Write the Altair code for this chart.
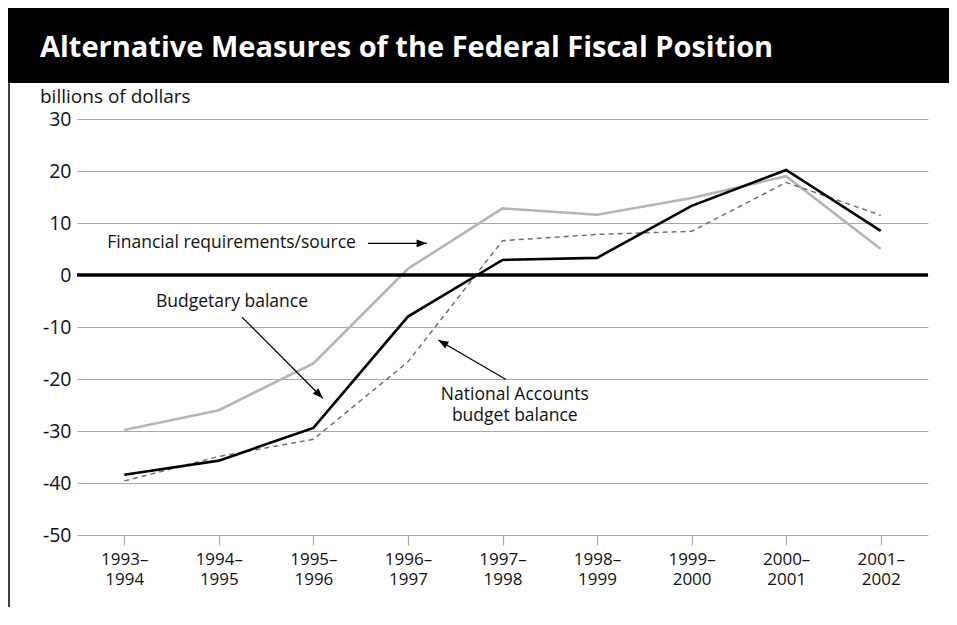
import altair as alt
import pandas as pd

# ---------------- data ----------------
label_top = ["1993–", "1994–", "1995–", "1996–", "1997–", "1998–", "1999–", "2000–", "2001–"]
label_bottom = ["1994", "1995", "1996", "1997", "1998", "1999", "2000", "2001", "2002"]
financial = [-29.8, -26.0, -17.0, 1.2, 12.8, 11.6, 14.8, 19.0, 5.0]
budgetary = [-38.4, -35.7, -29.4, -8.0, 2.9, 3.3, 13.3, 20.2, 8.5]
national = [-39.6, -34.9, -31.6, -16.7, 6.6, 7.8, 8.4, 17.8, 11.5]

y_ticks = [30, 20, 10, 0, -10, -20, -30, -40, -50]

# annotation texts (data coordinates: x = period index, y = billions)
ann_text = ["Financial requirements/source", "Budgetary balance", "National Accounts", "budget balance"]
ann_x = [-0.18, 0.335, 4.13, 4.13]
ann_y = [6.1, -5.25, -23.1, -27.2]
ann_align = ["left", "left", "center", "center"]

# arrows: start -> tip
arr_x1 = [2.577, 1.245, 4.037]
arr_y1 = [6.1, -8.1, -20.1]
arr_x2 = [3.20, 2.10, 3.32]
arr_y2 = [6.1, -23.7, -12.5]
arr_angle = [90, 135, 300]

FONT = "Open Sans"

idx = list(range(len(label_top)))
df = pd.DataFrame({
    "i": idx * 3,
    "v": financial + budgetary + national,
    "s": ["fin"] * 9 + ["bud"] * 9 + ["nat"] * 9,
})
ann_df = pd.DataFrame({"t": ann_text, "x": ann_x, "y": ann_y, "a": ann_align})
arr_df = pd.DataFrame({"x1": arr_x1, "y1": arr_y1, "x2": arr_x2, "y2": arr_y2, "ang": arr_angle})
one = pd.DataFrame({"d": [0]})

W, H = 851, 416
PL, PT, PR, PB = 69, 111, 21, 72

label_arr = "[" + ",".join("['%s','%s']" % (a, b) for a, b in zip(label_top, label_bottom)) + "]"

xscale = alt.Scale(domain=[-0.5, 8.5], nice=False, zero=False)
yscale = alt.Scale(domain=[-50, 30], nice=False, zero=False)

xaxis = alt.Axis(values=idx, labelExpr=label_arr + "[datum.value]", grid=False, domain=False,
                 ticks=True, tickSize=10, tickColor="#aaaaaa", tickWidth=1.2, tickOffset=0,
                 labelPadding=6, labelFontSize=17, labelFont=FONT, labelColor="#111111",
                 labelLineHeight=20, title=None, labelBaseline="top")
yaxis = alt.Axis(values=y_ticks, labelExpr="toString(datum.value)", grid=True, gridColor="#a8a8a8",
                 gridWidth=1.2, domain=False, ticks=False, labelPadding=6, labelFontSize=19.5,
                 labelFont=FONT, labelColor="#111111", title=None)

base = alt.Chart(df)

grid_layer = base.mark_point(opacity=0).encode(
    x=alt.X("i:Q", scale=xscale, axis=xaxis),
    y=alt.Y("v:Q", scale=yscale, axis=yaxis),
)

zero = alt.Chart(one).mark_rule(color="black", strokeWidth=3.5).encode(y=alt.datum(0, scale=yscale))

fin_line = base.transform_filter("datum.s == 'fin'").mark_line(color="#b5b5b5", strokeWidth=2.6).encode(
    x=alt.X("i:Q", scale=xscale), y=alt.Y("v:Q", scale=yscale))
nat_line = base.transform_filter("datum.s == 'nat'").mark_line(color="#707070", strokeWidth=1.5,
                                                                strokeDash=[5, 4]).encode(
    x=alt.X("i:Q", scale=xscale), y=alt.Y("v:Q", scale=yscale))
bud_line = base.transform_filter("datum.s == 'bud'").mark_line(color="black", strokeWidth=2.6).encode(
    x=alt.X("i:Q", scale=xscale), y=alt.Y("v:Q", scale=yscale))

ann_left = alt.Chart(ann_df).transform_filter("datum.a == 'left'").mark_text(
    align="left", baseline="middle", font=FONT, fontSize=17.5, color="#111111").encode(
    x=alt.X("x:Q", scale=xscale), y=alt.Y("y:Q", scale=yscale), text="t:N")
ann_center = alt.Chart(ann_df).transform_filter("datum.a == 'center'").mark_text(
    align="center", baseline="middle", font=FONT, fontSize=17.5, color="#111111").encode(
    x=alt.X("x:Q", scale=xscale), y=alt.Y("y:Q", scale=yscale), text="t:N")

arrows = alt.Chart(arr_df).mark_rule(color="black", strokeWidth=1.3).encode(
    x=alt.X("x1:Q", scale=xscale), y=alt.Y("y1:Q", scale=yscale),
    x2="x2:Q", y2="y2:Q")
heads = alt.Chart(arr_df).mark_point(shape="M0,0 L0.38,1 L-0.38,1 Z", filled=True, color="black",
                                      opacity=1, size=420, strokeWidth=0).encode(
    x=alt.X("x2:Q", scale=xscale), y=alt.Y("y2:Q", scale=yscale),
    angle=alt.Angle("ang:Q", scale=None))

# decorative header bar, title, unit label and left border
header = alt.Chart(one).mark_rect(color="black").encode(
    x=alt.value(-PL), x2=alt.value(W + PR), y=alt.value(-PT), y2=alt.value(-PT + 75))
title = alt.Chart(one).mark_text(text="Alternative Measures of the Federal Fiscal Position",
                                  align="left", baseline="alphabetic", font=FONT, fontSize=29,
                                  fontWeight="bold", color="white").encode(
    x=alt.value(40 - 77), y=alt.value(57 - 119))
unit = alt.Chart(one).mark_text(text="billions of dollars", align="left", baseline="alphabetic",
                                 font=FONT, fontSize=19, color="#111111").encode(
    x=alt.value(40 - 77), y=alt.value(103 - 119))
border = alt.Chart(one).mark_rule(color="black", strokeWidth=1.5).encode(
    x=alt.value(-PL + 1), y=alt.value(-PT + 75), y2=alt.value(H + PB))

chart = alt.layer(
    header, title, unit, border, grid_layer, fin_line, nat_line, bud_line, zero,
    arrows, heads, ann_left, ann_center,
).properties(
    width=W, height=H,
    autosize=alt.AutoSizeParams(type="none"),
    padding={"left": PL, "top": PT, "right": PR, "bottom": PB},
    background="white",
).configure_view(stroke=None)

chart.save("out.html", embed_options={"renderer": "svg", "actions": False})
